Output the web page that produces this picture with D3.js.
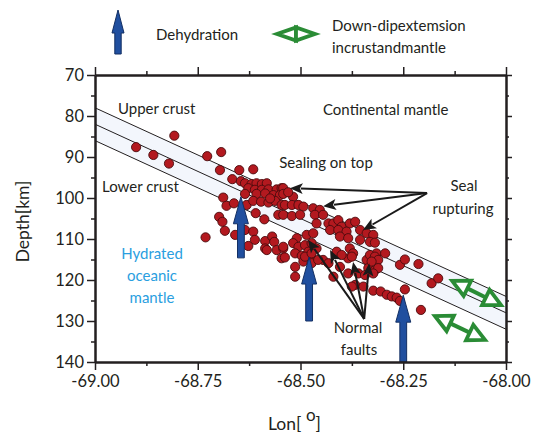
<!DOCTYPE html>
<html>
<head>
<meta charset="utf-8">
<script src="https://cdn.jsdelivr.net/npm/d3@7/dist/d3.min.js"></script>
<style>
  html, body { margin: 0; padding: 0; background: #fff; }
  text { font-family: Lato, "Open Sans", sans-serif; fill: #231f20; }
</style>
</head>
<body>
<svg id="chart" width="535" height="433"></svg>
<script>
// ---------------- DATA ----------------
const lonTicks = [-69.00, -68.75, -68.50, -68.25, -68.00];
const lonMinorTicks = [-68.875, -68.625, -68.375, -68.125];
const depthTicks = [70, 80, 90, 100, 110, 120, 130, 140];
const depthMinorTicks = [75, 85, 95, 105, 115, 125, 135];

// slab boundary lines: depth at lon -69 and lon -68
const slabLon = [-69.0, -68.0];
const slabTop = [78, 124];
const slabMid = [82, 128];
const slabBot = [86, 132];

// earthquake hypocentres [lon, depth km]
const quakeLon = [
 -68.807,-68.900,-68.858,-68.820,-68.727,-68.693,-68.696,-68.649,-68.615,-68.666,
 -68.645,-68.688,-68.680,-68.662,-68.698,-68.635,-68.619,-68.607,-68.594,-68.582,
 -68.627,-68.611,-68.594,-68.578,-68.558,-68.546,-68.635,-68.607,-68.586,-68.566,
 -68.550,-68.631,-68.615,-68.596,-68.578,-68.562,-68.546,-68.574,-68.609,-68.588,
 -68.690,-68.554,-68.684,-68.731,-68.659,-68.635,-68.615,-68.611,-68.586,-68.569,
 -68.564,-68.586,-68.582,-68.558,-68.542,-68.546,-68.627,-68.542,-68.518,-68.538,
 -68.521,-68.505,-68.493,-68.542,-68.521,-68.501,-68.469,-68.453,-68.465,-68.445,
 -68.461,-68.432,-68.420,-68.408,-68.400,-68.380,-68.367,-68.428,-68.408,-68.388,
 -68.355,-68.339,-68.323,-68.404,-68.384,-68.355,-68.331,-68.485,-68.469,-68.509,
 -68.518,-68.505,-68.489,-68.473,-68.461,-68.542,-68.538,-68.513,-68.497,-68.493,
 -68.481,-68.469,-68.445,-68.432,-68.513,-68.412,-68.380,-68.372,-68.384,-68.339,
 -68.323,-68.315,-68.331,-68.489,-68.473,-68.513,-68.473,-68.457,-68.400,-68.375,
 -68.404,-68.384,-68.359,-68.367,-68.347,-68.420,-68.375,-68.319,-68.335,-68.319,
 -68.343,-68.311,-68.323,-68.305,-68.290,-68.278,-68.266,-68.258,-68.246,-68.207,
 -68.319,-68.294,-68.327,-68.311,-68.323,-68.258,-68.246,-68.213,-68.181,-68.165,
 -68.542,-68.530
];
const quakeDepth = [
  84.8, 87.6, 89.5, 91.6, 89.8, 88.8, 93.2, 93.2, 93.0, 95.4,
  95.9, 99.9,101.9,101.3,104.6, 96.4, 96.6, 96.4, 96.6, 96.4,
  97.6, 98.0, 98.0, 97.9, 97.9, 97.6, 99.0, 99.0, 98.9, 99.3,
  99.3,101.7,100.7,100.9,101.1,100.7,101.7,100.1,103.7,105.2,
 105.8,104.1,108.0,109.6,109.0,107.8,108.2,110.2,110.5,109.4,
 110.7,112.3,112.7,112.7,112.3,114.7,111.7, 97.6, 99.7,101.7,
 101.7,101.7,102.1,104.1,104.4,104.1,102.5,102.9,104.1,104.1,
 106.2,106.2,106.2,105.4,107.0,106.2,105.8,107.8,107.8,108.2,
 107.8,108.6,109.0,109.4,109.8,110.2,110.7,109.0,108.6,109.8,
 111.0,111.9,111.5,111.0,112.3,111.9,114.5,113.5,114.1,115.5,
 113.1,115.1,115.1,115.9,116.8,113.1,112.3,113.5,114.7,115.1,
 114.7,113.5,113.9,114.3,113.5,119.2,115.9,115.1,113.9,114.3,
 116.8,118.4,118.4,121.2,121.6,119.2,121.6,114.3,117.1,117.6,
 118.8,115.1,122.6,122.8,123.6,124.0,124.3,125.1,122.3,127.3,
 110.9,113.5,115.5,117.1,118.4,116.3,115.0,116.1,120.8,119.6,
  99.0, 98.6
];

// dehydration arrows: lon, tip depth, base depth
const dehydLon = [-68.645, -68.479, -68.250];
const dehydTip = [99.7, 114.4, 123.7];
const dehydBase = [114.6, 130.0, 140.0];

// "Seal rupturing" arrows: from one origin to several tips
const sealFrom = [-68.192, 98.8];
const sealTipLon = [-68.526, -68.445, -68.348];
const sealTipDepth = [97.6, 102.0, 107.8];

// "Normal faults" arrows
const faultFrom = [-68.345, 129.5];
const faultTipLon = [-68.482, -68.428, -68.372, -68.333];
const faultTipDepth = [110.2, 112.7, 115.6, 115.9];

// down-dip extension double arrows
const extStartLon = [-68.131, -68.173];
const extStartDepth = [120.2, 128.8];
const extEndLon = [-68.012, -68.051];
const extEndDepth = [126.1, 134.6];

// ---------------- CHART ----------------
const W = 535, H = 433;
const margin = {left: 95, right: 29, top: 75, bottom: 71};
const svg = d3.select("#chart");
svg.append("rect").attr("width", W).attr("height", H).attr("fill", "#fff");

const x = d3.scaleLinear().domain([-69, -68]).range([margin.left, W - margin.right]);
const y = d3.scaleLinear().domain([70, 140]).range([margin.top, H - margin.bottom]);

const ink = "#231f20";
const fmt = d3.formatLocale({decimal: ".", thousands: ",", grouping: [3], currency: ["", ""], minus: "-"});

svg.append("clipPath").attr("id", "plotclip").append("rect")
  .attr("x", x(-69)).attr("y", y(70)).attr("width", x(-68) - x(-69)).attr("height", y(140) - y(70));
const plot = svg.append("g").attr("clip-path", "url(#plotclip)");

// band between top and bottom slab lines
const band = [[slabLon[0], slabTop[0]], [slabLon[1], slabTop[1]], [slabLon[1], slabBot[1]], [slabLon[0], slabBot[0]]];
plot.append("path")
  .attr("d", "M" + band.map(p => [x(p[0]), y(p[1])].join(",")).join("L") + "Z")
  .attr("fill", "#f3f6fc");

[slabTop, slabMid, slabBot].forEach(arr => {
  plot.append("line")
    .attr("x1", x(slabLon[0])).attr("y1", y(arr[0]))
    .attr("x2", x(slabLon[1])).attr("y2", y(arr[1]))
    .attr("stroke", ink).attr("stroke-width", 1);
});

// quakes
plot.selectAll("circle.q").data(d3.range(quakeLon.length)).join("circle")
  .attr("class", "q")
  .attr("cx", i => x(quakeLon[i])).attr("cy", i => y(quakeDepth[i]))
  .attr("r", 4.6)
  .attr("fill", "#b3191f").attr("stroke", "#4a0b0d").attr("stroke-width", 0.9);

// blue arrows
function blueArrow(g, cx, yt, yb, headL, headW, shaftW) {
  const pts = [[cx, yt], [cx + headW, yt + headL], [cx + shaftW, yt + headL], [cx + shaftW, yb],
               [cx - shaftW, yb], [cx - shaftW, yt + headL], [cx - headW, yt + headL]];
  g.append("path").attr("d", "M" + pts.map(p => p.join(",")).join("L") + "Z")
    .attr("fill", "#204f9f").attr("stroke", "#132f63").attr("stroke-width", 1);
}
dehydLon.forEach((lon, i) => blueArrow(plot, x(lon), y(dehydTip[i]), y(dehydBase[i]), 27, 7.5, 3.4));

// black arrows
function blackArrow(g, x1, y1, x2, y2) {
  const dx = x2 - x1, dy = y2 - y1, len = Math.hypot(dx, dy);
  const ux = dx / len, uy = dy / len, L = 13, Wd = 5.5;
  const bx = x2 - ux * L, by = y2 - uy * L;
  g.append("line").attr("x1", x1).attr("y1", y1).attr("x2", bx + ux * 2).attr("y2", by + uy * 2)
    .attr("stroke", "#1a1a1a").attr("stroke-width", 2);
  g.append("path")
    .attr("d", `M${x2},${y2}L${bx - uy * Wd},${by + ux * Wd}L${bx + ux * 3},${by + uy * 3}L${bx + uy * Wd},${by - ux * Wd}Z`)
    .attr("fill", "#1a1a1a");
}
const ann = svg.append("g");
sealTipLon.forEach((lon, i) => blackArrow(ann, x(sealFrom[0]), y(sealFrom[1]), x(lon), y(sealTipDepth[i])));
faultTipLon.forEach((lon, i) => blackArrow(ann, x(faultFrom[0]), y(faultFrom[1]), x(lon), y(faultTipDepth[i])));

// green double arrows
function greenDouble(g, x1, y1, x2, y2, L, Wd) {
  const dx = x2 - x1, dy = y2 - y1, len = Math.hypot(dx, dy);
  const ux = dx / len, uy = dy / len;
  const green = "#2a8c35";
  const b1 = [x1 + ux * L, y1 + uy * L], b2 = [x2 - ux * L, y2 - uy * L];
  if (len > 2 * L) {
    g.append("line").attr("x1", b1[0]).attr("y1", b1[1]).attr("x2", b2[0]).attr("y2", b2[1])
      .attr("stroke", green).attr("stroke-width", 4);
  }
  [[x1, y1, b1], [x2, y2, b2]].forEach(([tx, ty, b]) => {
    g.append("path")
      .attr("d", `M${tx},${ty}L${b[0] - uy * Wd},${b[1] + ux * Wd}L${b[0] + uy * Wd},${b[1] - ux * Wd}Z`)
      .attr("fill", "#fff").attr("stroke", green).attr("stroke-width", 3.8).attr("stroke-linejoin", "miter");
  });
}
extStartLon.forEach((lon, i) => greenDouble(ann, x(lon), y(extStartDepth[i]), x(extEndLon[i]), y(extEndDepth[i]), 17, 8.5));

// axes
function styleAxis(g) {
  g.selectAll("path.domain").attr("stroke", ink).attr("stroke-width", 2);
  g.selectAll(".tick line").attr("stroke", ink).attr("stroke-width", 1.5);
  g.selectAll(".tick text").attr("fill", ink).style("font-size", "16.5px")
    .style("font-family", "Lato, 'Open Sans', sans-serif");
}
const gL = svg.append("g").attr("transform", `translate(${x(-69)},0)`)
  .call(d3.axisLeft(y).tickValues(depthTicks).tickFormat(d3.format("d")).tickSize(8).tickSizeOuter(0).tickPadding(3));
styleAxis(gL);
const gLm = svg.append("g").attr("transform", `translate(${x(-69)},0)`)
  .call(d3.axisLeft(y).tickValues(depthMinorTicks).tickFormat("").tickSize(4).tickSizeOuter(0));
styleAxis(gLm);
const gR = svg.append("g").attr("transform", `translate(${x(-68)},0)`)
  .call(d3.axisRight(y).tickValues(depthTicks).tickFormat("").tickSize(6).tickSizeOuter(0));
styleAxis(gR);
const gRm = svg.append("g").attr("transform", `translate(${x(-68)},0)`)
  .call(d3.axisRight(y).tickValues(depthMinorTicks).tickFormat("").tickSize(3).tickSizeOuter(0));
styleAxis(gRm);
const gB = svg.append("g").attr("transform", `translate(0,${y(140)})`)
  .call(d3.axisBottom(x).tickValues(lonTicks).tickFormat(fmt.format(".2f")).tickSize(8).tickSizeOuter(0).tickPadding(5));
styleAxis(gB);
const gBm = svg.append("g").attr("transform", `translate(0,${y(140)})`)
  .call(d3.axisBottom(x).tickValues(lonMinorTicks).tickFormat("").tickSize(4).tickSizeOuter(0));
styleAxis(gBm);
const gT = svg.append("g").attr("transform", `translate(0,${y(70)})`)
  .call(d3.axisTop(x).tickValues(lonTicks).tickFormat("").tickSize(8).tickSizeOuter(0));
styleAxis(gT);
const gTm = svg.append("g").attr("transform", `translate(0,${y(70)})`)
  .call(d3.axisTop(x).tickValues(lonMinorTicks).tickFormat("").tickSize(4).tickSizeOuter(0));
styleAxis(gTm);

// axis titles
svg.append("text").attr("transform", `translate(29,${(y(70) + y(140)) / 2 + 3}) rotate(-90)`)
  .attr("text-anchor", "middle").style("font-size", "17.5px").text("Depth[km]");
const lonT = svg.append("text").attr("x", 268).attr("y", 430).style("font-size", "17.5px");
lonT.append("tspan").text("Lon[ ");
lonT.append("tspan").attr("dy", -9).style("font-size", "17px").text("o");
lonT.append("tspan").attr("dy", 9).text("]");

// labels in plot
function label(txt, xx, yy, anchor, color) {
  svg.append("text").attr("x", xx).attr("y", yy).attr("text-anchor", anchor || "start")
    .style("font-size", "15px").style("fill", color || ink).text(txt);
}
label("Upper crust", 118, 114);
label("Continental mantle", 323, 115);
label("Lower crust", 102, 192);
label("Sealing on top", 326, 168, "middle");
label("Seal", 464, 191, "middle");
label("rupturing", 463, 214, "middle");
label("Normal", 358, 333, "middle");
label("faults", 359, 355, "middle");
label("Hydrated", 152, 259, "middle", "#2a9ee0");
label("oceanic", 152, 281, "middle", "#2a9ee0");
label("mantle", 152, 303, "middle", "#2a9ee0");

// legend
blueArrow(svg, 118, 10, 54, 23, 6, 3.2);
label("Dehydration", 156, 40);
greenDouble(svg, 277, 34, 315, 34, 19, 6.5);
label("Down-dipextemsion", 332, 31);
label("incrustandmantle", 332, 53);
</script>
</body>
</html>
